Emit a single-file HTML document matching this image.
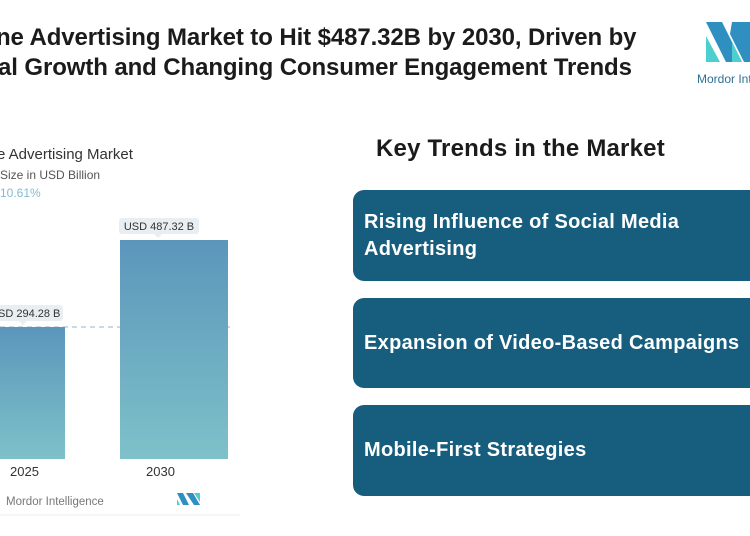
<!DOCTYPE html>
<html><head><meta charset="utf-8"><style>
html,body{margin:0;width:750px;height:536px;overflow:hidden;background:#fff;position:relative;font-family:"Liberation Sans",sans-serif}
.t{position:absolute;font-weight:bold;font-size:24px;color:#1b1b1b;white-space:nowrap;letter-spacing:-0.1px}
.box{position:absolute;left:353px;width:397px;background:#175e7e;border-radius:11px 0 0 11px;color:#fff;font-weight:bold;font-size:20px;line-height:27px;padding-left:11px;box-sizing:border-box;display:flex;align-items:center;white-space:nowrap;overflow:hidden;letter-spacing:0.3px}
.a{position:absolute;white-space:nowrap}
</style></head><body>
<div class="t" style="left:-4px;top:24px">ne Advertising Market to Hit $487.32B by 2030, Driven by</div>
<div class="t" style="left:-2px;top:54px">al Growth and Changing Consumer Engagement Trends</div>
<svg style="position:absolute;left:700px;top:18px" width="50" height="50"><polygon points="6,4 22,4 42,44 26,44" fill="#2e8fc0"/><polygon points="6,18 20,44 6,44" fill="#4dcfd0"/><polygon points="32,4 50,4 50,44 44,44 30,16" fill="#2e8fc0"/><polygon points="32,24 42,44 32,44" fill="#4dcfd0"/></svg>
<div class="a" style="left:697px;top:72px;font-size:12px;color:#2e6f96;width:53px;overflow:hidden">Mordor Intelligence</div>
<div class="a" style="left:376px;top:135px;font-size:24px;font-weight:bold;color:#1b1b1b;letter-spacing:0.2px">Key Trends in the Market</div>
<div class="box" style="top:190px;height:91px">Rising Influence of Social Media<br>Advertising</div>
<div class="box" style="top:298px;height:90px">Expansion of Video-Based Campaigns</div>
<div class="box" style="top:405px;height:91px">Mobile-First Strategies</div>
<div class="a" style="left:-3px;top:146px;font-size:15px;color:#333">e Advertising Market</div>
<div class="a" style="left:0;top:168px;font-size:12px;color:#555">Size in USD Billion</div>
<div class="a" style="left:0;top:186px;font-size:12px;color:#7fbcd0">10.61%</div>
<svg style="position:absolute;left:0;top:210px" width="250" height="310">
<defs><linearGradient id="g" x1="0" y1="0" x2="0" y2="1"><stop offset="0" stop-color="#5b96bb"/><stop offset="1" stop-color="#7ec1c9"/></linearGradient></defs>
<line x1="0" y1="117" x2="232" y2="117" stroke="#a9c4d0" stroke-dasharray="5,4" stroke-width="1.3"/>
<rect x="0" y="117" width="65" height="132" fill="url(#g)"/>
<rect x="120" y="30" width="108" height="219" fill="url(#g)"/>
<rect x="119" y="8" width="80" height="16" rx="3" fill="#e8eef1"/>
<polygon points="154,24 162,24 158,28" fill="#e8eef1"/>
<text x="159" y="20" text-anchor="middle" font-size="11" fill="#333" font-family="Liberation Sans">USD 487.32 B</text>
<rect x="-10" y="95" width="73" height="16" rx="3" fill="#e8eef1"/>
<polygon points="19,111 27,111 23,115" fill="#e8eef1"/>
<text x="-2" y="107" font-size="11" fill="#333" font-family="Liberation Sans">SD 294.28 B</text>
<text x="10" y="266" font-size="13" fill="#333" font-family="Liberation Sans">2025</text>
<text x="146" y="266" font-size="13" fill="#333" font-family="Liberation Sans">2030</text>
<text x="6" y="295" font-size="11.5" fill="#777" font-family="Liberation Sans">Mordor Intelligence</text>
<polygon points="177,283 183,283 189,295 183,295" fill="#2e8fc0"/><polygon points="177,289 180,295 177,295" fill="#4dcfd0"/><polygon points="186,283 193,283 200,295 194,295" fill="#2e8fc0"/><polygon points="194,283 200,283 200,292" fill="#4dcfd0"/>
<line x1="0" y1="305" x2="240" y2="305" stroke="#eee"/>
</svg>
</body></html>
